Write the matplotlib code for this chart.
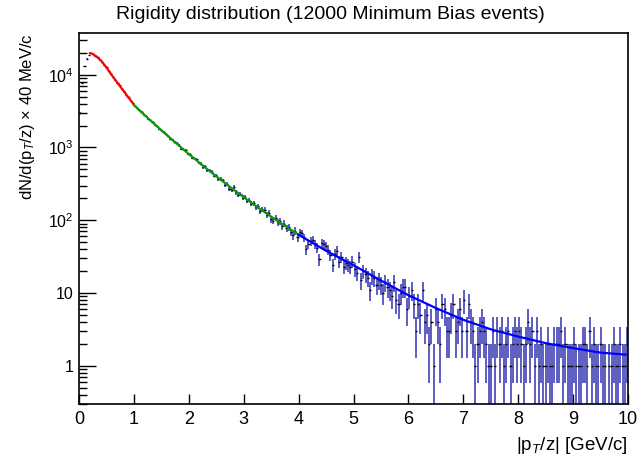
import matplotlib
matplotlib.use('Agg')
import matplotlib.pyplot as plt
import numpy as np
from matplotlib.ticker import LogLocator, FuncFormatter, NullFormatter, MultipleLocator

plt.rcParams['font.family'] = ['Liberation Sans', 'DejaVu Sans']
plt.rcParams['mathtext.fontset'] = 'custom'
plt.rcParams['mathtext.rm'] = 'Liberation Sans'
plt.rcParams['mathtext.it'] = 'Liberation Sans:italic'

# histogram: 250 bins of 40 MeV/c from 0 to 10 GeV/c
bin_width = 0.04
counts_low = [3000, 7700, 13000, 16600, 18800]
counts_red = [19650, 19260, 18130, 17340, 16180, 15210, 13740, 12650, 11310, 10330,
              9270, 8560, 7710, 7130, 6420, 5910, 5320, 4910, 4420, 4080]
counts_green = [3690, 3521, 3230, 3090, 2838, 2702, 2470, 2391, 2240, 2050,
                1981, 1802, 1745, 1650, 1508, 1452, 1321, 1290, 1180, 1148,
                1071, 962, 951, 910, 819, 801, 721, 712, 690, 614,
                601, 532, 548, 489, 481, 462, 411, 418, 367, 371,
                352, 305, 318, 271, 262, 284, 241, 222, 230, 205,
                209, 185, 190, 168, 172, 151, 156, 132, 141, 139,
                118, 127, 103, 99, 108, 94, 96, 83, 90, 78,
                81, 68, 62, 71, 58]
counts_blue = [68, 66, 58, 40, 47, 52, 54, 47, 42, 29, 48, 47, 44, 39, 33, 24, 34, 38, 27, 31,
               23, 26, 24, 23, 27, 21, 19, 31, 15, 20, 18, 16, 11, 17, 16, 13, 15, 13, 10, 14,
               12, 11, 9, 14, 8, 7, 10, 12, 12, 6, 9, 11, 7, 3, 7, 5, 11, 4, 5, 2,
               4, 1, 6, 4, 2, 7, 6, 3, 3, 5, 7, 3, 4, 6, 3, 8, 3, 7, 4, 3,
               1, 2, 3, 4, 3, 2, 1, 1, 3, 1, 3, 2, 3, 1, 2, 3, 1, 2, 3, 2,
               3, 2, 1, 2, 4, 2, 3, 1, 3, 1, 2, 1, 1, 2, 1, 1, 2, 2, 2, 3,
               1, 2, 1, 1, 1, 2, 1, 1, 1, 2, 2, 1, 3, 1, 2, 1, 1, 2, 1, 1,
               0, 1, 1, 2, 1, 1, 2, 1, 1, 2]
counts = np.array(counts_low + counts_red + counts_green + counts_blue, dtype=float)
centers = bin_width / 2 + bin_width * np.arange(len(counts))

# fitted functions
red_x = [0.20, 0.25, 0.30, 0.35, 0.40, 0.50, 0.60, 0.70, 0.80, 0.90, 1.00]
red_y = [19800, 19300, 18200, 17000, 15700, 12600, 9800, 7760, 6150, 4880, 3870]
green_x = [1.0, 1.25, 1.5, 1.75, 2.0, 2.25, 2.5, 2.75, 3.0, 3.25, 3.5, 3.75, 4.0]
green_y = [3830, 2553, 1726, 1178, 813, 568, 401, 287, 207, 151, 112, 83.8, 63.3]
blue_x = [4.0, 4.5, 5.0, 5.5, 6.0, 6.5, 7.0, 7.5, 8.0, 8.5, 9.0, 9.5, 10.0]
blue_y = [63, 38, 24, 14.8, 9.3, 6.2, 4.27, 3.16, 2.51, 2.04, 1.74, 1.51, 1.41]

fig = plt.figure(figsize=(6.37, 4.61), dpi=100)
ax = fig.add_axes([79/637, 57/461, 549/637, 371/461])

#data points with errors
m = counts > 0
x = centers[m]
n = counts[m]
err = np.sqrt(n)
lo = np.maximum(n - err, 1e-3)
hi = n + err
ax.vlines(x, lo, hi, colors='#3a3ab4', lw=1.15, zorder=2)
ax.hlines(n, x - bin_width/2, x + bin_width/2, colors='k', lw=1.0, zorder=3)

#fits
ax.plot(red_x, red_y, color='#ff0000', lw=1.6, zorder=4)
ax.plot(green_x, green_y, color='#0a9a0a', lw=1.6, zorder=4)
ax.plot(blue_x, blue_y, color='#0000ff', lw=1.6, zorder=4)

ax.set_yscale('log')
ax.set_xlim(0, 10)
ax.set_ylim(0.297, 37500)

ax.xaxis.set_major_locator(MultipleLocator(1))
ax.yaxis.set_major_locator(LogLocator(base=10, numticks=10))
ax.yaxis.set_minor_locator(LogLocator(base=10, subs=np.arange(2, 10), numticks=20))
ax.yaxis.set_minor_formatter(NullFormatter())

def ylab(v, pos):
    if v < 1.5:
        return '1'
    if v < 15:
        return '10'
    return r'$10^{%d}$' % int(round(np.log10(v)))
ax.yaxis.set_major_formatter(FuncFormatter(ylab))

ax.tick_params(direction='in', which='both', top=False, right=False, width=1.0)
ax.xaxis.set_tick_params(which='major', length=7, labelsize=13, pad=5)
ax.yaxis.set_tick_params(which='major', length=12, labelsize=11.5, pad=4)
ax.yaxis.set_tick_params(which='minor', length=6)
for s in ax.spines.values():
    s.set_linewidth(1.2)

ax.set_xlabel(r'|p$_{T}$/z| [GeV/c]', fontsize=13.5, loc='right', labelpad=5)
ax.set_ylabel(r'dN/d(p$_{T}$/z) $\times$ 40 MeV/c', fontsize=12, loc='top', labelpad=8)

fig.text(0.518, 0.968, 'Rigidity distribution (12000 Minimum Bias events)', ha='center', va='center', fontsize=14)

fig.savefig('out.png', dpi=100)
